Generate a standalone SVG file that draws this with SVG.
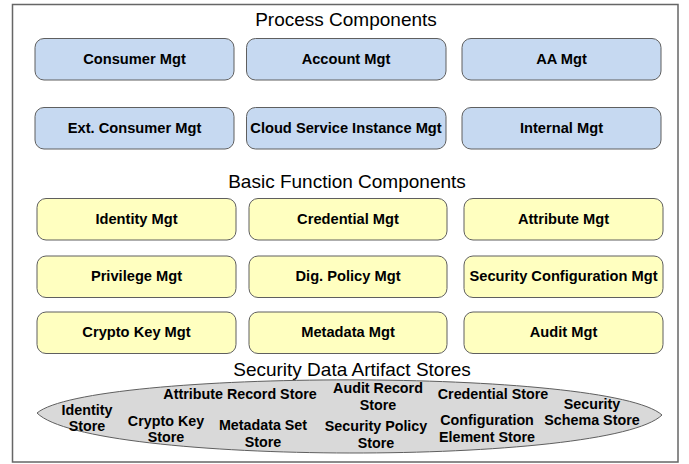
<svg xmlns="http://www.w3.org/2000/svg" width="689" height="464" viewBox="0 0 689 464">
<style>
.frame{fill:#ffffff;stroke:#666666;stroke-width:1.5}
.blue{fill:#c6d9f1;stroke:#5f5f5f;stroke-width:1}
.yel{fill:#ffffc0;stroke:#5f5f5f;stroke-width:1}
.ell{fill:#d9d9d9;stroke:#5f5f5f;stroke-width:1}
.title{font-family:"Liberation Sans",Arial,sans-serif;font-size:19px;fill:#000;text-anchor:middle}
.lbl{font-family:"Liberation Sans",Arial,sans-serif;font-size:14.67px;font-weight:bold;fill:#000;text-anchor:middle}
.sl{font-family:"Liberation Sans",Arial,sans-serif;font-size:14.3px;font-weight:bold;fill:#000;text-anchor:middle}
</style>
<rect class="frame" x="12.5" y="4.5" width="665.5" height="457.5"/>
<text class="title" x="346" y="26">Process Components</text>
<text class="title" x="347" y="188">Basic Function Components</text>
<text class="title" x="352" y="376">Security Data Artifact Stores</text>

<g id="consumer-mgt"><rect class="blue" x="35" y="38.5" width="199" height="41.5" rx="9"/><text class="lbl" x="134.5" y="63.5">Consumer Mgt</text></g>
<g id="account-mgt"><rect class="blue" x="246.5" y="38.5" width="199.5" height="41.5" rx="9"/><text class="lbl" x="346" y="63.5">Account Mgt</text></g>
<g id="aa-mgt"><rect class="blue" x="462" y="38.5" width="199" height="41.5" rx="9"/><text class="lbl" x="561.5" y="63.5">AA Mgt</text></g>
<g id="ext-consumer-mgt"><rect class="blue" x="35" y="107.5" width="199" height="41.5" rx="9"/><text class="lbl" x="134.5" y="132.5">Ext. Consumer Mgt</text></g>
<g id="cloud-service-instance-mgt"><rect class="blue" x="246.5" y="107.5" width="199.5" height="41.5" rx="9"/><text class="lbl" x="346" y="132.5">Cloud Service Instance Mgt</text></g>
<g id="internal-mgt"><rect class="blue" x="462" y="107.5" width="199" height="41.5" rx="9"/><text class="lbl" x="561.5" y="132.5">Internal Mgt</text></g>

<g id="identity-mgt"><rect class="yel" x="37" y="198.5" width="199" height="41.5" rx="9"/><text class="lbl" x="136.5" y="223.5">Identity Mgt</text></g>
<g id="credential-mgt"><rect class="yel" x="249" y="198.5" width="198" height="41.5" rx="9"/><text class="lbl" x="348" y="223.5">Credential Mgt</text></g>
<g id="attribute-mgt"><rect class="yel" x="464" y="198.5" width="199" height="41.5" rx="9"/><text class="lbl" x="563.5" y="223.5">Attribute Mgt</text></g>
<g id="privilege-mgt"><rect class="yel" x="37" y="256" width="199" height="41.5" rx="9"/><text class="lbl" x="136.5" y="281">Privilege Mgt</text></g>
<g id="dig-policy-mgt"><rect class="yel" x="249" y="256" width="198" height="41.5" rx="9"/><text class="lbl" x="348" y="281">Dig. Policy Mgt</text></g>
<g id="security-configuration-mgt"><rect class="yel" x="464" y="256" width="199" height="41.5" rx="9"/><text class="lbl" x="563.5" y="281">Security Configuration Mgt</text></g>
<g id="crypto-key-mgt"><rect class="yel" x="37" y="312" width="199" height="41.5" rx="9"/><text class="lbl" x="136.5" y="337">Crypto Key Mgt</text></g>
<g id="metadata-mgt"><rect class="yel" x="249" y="312" width="198" height="41.5" rx="9"/><text class="lbl" x="348" y="337">Metadata Mgt</text></g>
<g id="audit-mgt"><rect class="yel" x="464" y="312" width="199" height="41.5" rx="9"/><text class="lbl" x="563.5" y="337">Audit Mgt</text></g>

<g id="data-stores">
<path class="ell" d="M37,413 C90,369 610,368 662,415 C610,466 90,466 37,413 Z"/>
<text class="sl" x="87" y="415">Identity</text><text class="sl" x="87" y="431">Store</text>
<text class="sl" x="166" y="426">Crypto Key</text><text class="sl" x="166" y="442">Store</text>
<text class="sl" x="240" y="399">Attribute Record Store</text>
<text class="sl" x="263" y="430">Metadata Set</text><text class="sl" x="263" y="447">Store</text>
<text class="sl" x="378" y="393">Audit Record</text><text class="sl" x="378" y="410">Store</text>
<text class="sl" x="376" y="431">Security Policy</text><text class="sl" x="376" y="448">Store</text>
<text class="sl" x="493" y="399">Credential Store</text>
<text class="sl" x="487" y="425">Configuration</text><text class="sl" x="487" y="442">Element Store</text>
<text class="sl" x="592" y="409">Security</text><text class="sl" x="592" y="425">Schema Store</text>
</g>
<g id="connectors"/>
</svg>
